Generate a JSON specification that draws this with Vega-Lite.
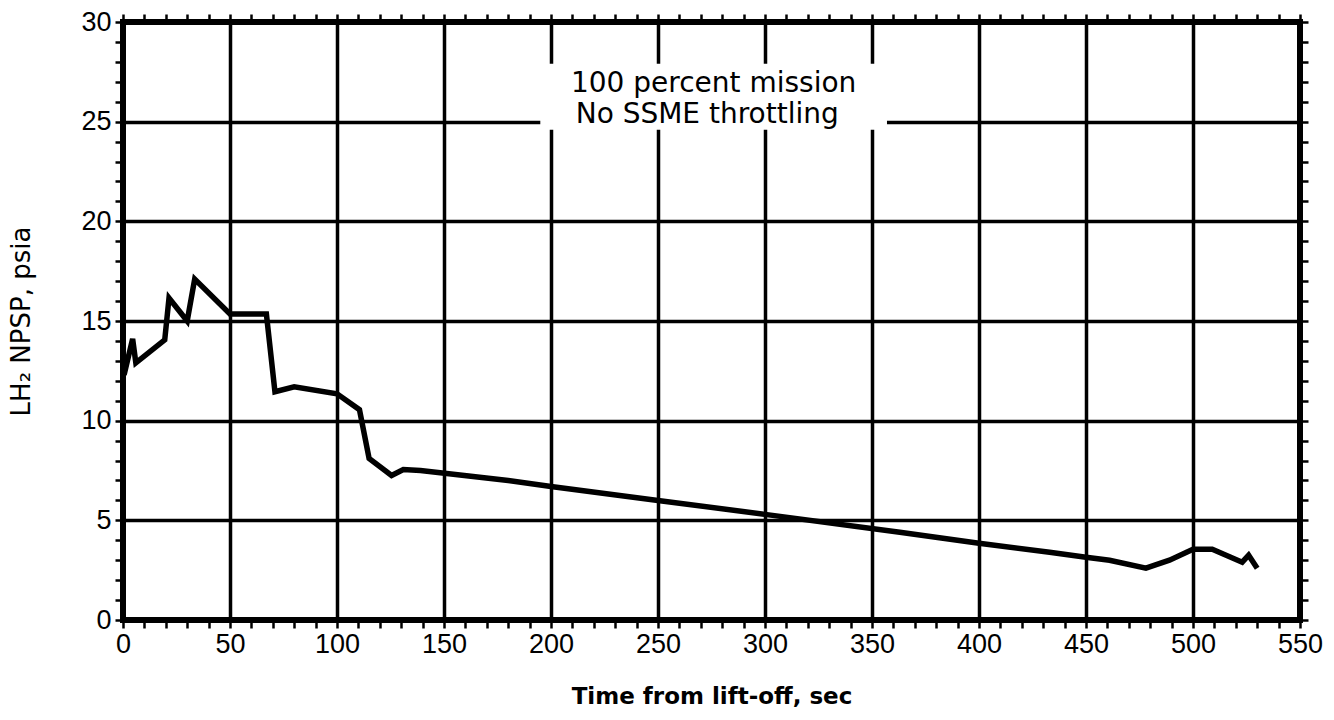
{
  "$schema": "https://vega.github.io/schema/vega-lite/v6.json",
  "autosize": "none",
  "width": 1177,
  "height": 598,
  "padding": {"left": 123, "top": 22, "right": 34, "bottom": 100},
  "background": "white",
  "config": {
    "view": {"stroke": "black", "strokeWidth": 6},
    "axis": {
      "domain": false,
      "tickColor": "black",
      "tickWidth": 2.5,
      "tickSize": 8,
      "labelFont": "Liberation Sans",
      "labelFontSize": 27,
      "labelColor": "black",
      "labelFlush": false,
      "labelOverlap": false,
      "titleColor": "black",
      "gridColor": "black",
      "gridWidth": 3.5,
      "gridOpacity": 1
    }
  },
  "datasets": {
    "npsp": [
      {"t": 0.5, "v": 12.3}, {"t": 4.5, "v": 14.1}, {"t": 6, "v": 12.9},
      {"t": 19.5, "v": 14.05}, {"t": 21.5, "v": 16.15}, {"t": 30, "v": 15.0},
      {"t": 33.5, "v": 17.1}, {"t": 50, "v": 15.35}, {"t": 67, "v": 15.35},
      {"t": 71, "v": 11.45}, {"t": 80, "v": 11.7}, {"t": 100, "v": 11.35},
      {"t": 110.5, "v": 10.55}, {"t": 115, "v": 8.1}, {"t": 125.5, "v": 7.25},
      {"t": 131, "v": 7.55}, {"t": 139, "v": 7.5}, {"t": 180, "v": 7.0},
      {"t": 200, "v": 6.7}, {"t": 250, "v": 6.0}, {"t": 300, "v": 5.3},
      {"t": 363, "v": 4.4}, {"t": 400, "v": 3.85}, {"t": 433, "v": 3.4},
      {"t": 450, "v": 3.15}, {"t": 461, "v": 3.0}, {"t": 478, "v": 2.6},
      {"t": 489, "v": 3.0}, {"t": 500, "v": 3.55}, {"t": 509, "v": 3.55},
      {"t": 523, "v": 2.9}, {"t": 526, "v": 3.25}, {"t": 530, "v": 2.6}
    ],
    "box": [{"t1": 195, "t2": 357, "v1": 24.6, "v2": 27.9}],
    "notes": [
      {"t": 276, "v": 26.5, "label": "100 percent mission"},
      {"t": 273, "v": 24.95, "label": "No SSME throttling"}
    ]
  },
  "layer": [
    {
      "data": {"name": "box"},
      "mark": {"type": "rect", "color": "white"},
      "encoding": {
        "x": {"field": "t1", "type": "quantitative",
          "scale": {"domain": [0, 550], "nice": false, "zero": false},
          "axis": {"orient": "top", "values": [0,10,20,30,40,50,60,70,80,90,100,110,120,130,140,150,160,170,180,190,200,210,220,230,240,250,260,270,280,290,300,310,320,330,340,350,360,370,380,390,400,410,420,430,440,450,460,470,480,490,500,510,520,530,540,550], "labels": false, "grid": false, "title": null}},
        "x2": {"field": "t2"},
        "y": {"field": "v1", "type": "quantitative",
          "scale": {"domain": [0, 30], "nice": false, "zero": false},
          "axis": {"orient": "right", "values": [0,1,2,3,4,5,6,7,8,9,10,11,12,13,14,15,16,17,18,19,20,21,22,23,24,25,26,27,28,29,30], "labels": false, "grid": false, "title": null}},
        "y2": {"field": "v2"}
      }
    },
    {
      "data": {"name": "npsp"},
      "mark": {"type": "line", "color": "black", "strokeWidth": 5.5, "strokeJoin": "miter"},
      "encoding": {
        "x": {"field": "t", "type": "quantitative",
          "scale": {"domain": [0, 550], "nice": false, "zero": false},
          "axis": {"orient": "bottom", "values": [0,10,20,30,40,50,60,70,80,90,100,110,120,130,140,150,160,170,180,190,200,210,220,230,240,250,260,270,280,290,300,310,320,330,340,350,360,370,380,390,400,410,420,430,440,450,460,470,480,490,500,510,520,530,540,550],
            "labelExpr": "datum.value % 50 === 0 ? datum.label : ''",
            "labelPadding": 3,
            "grid": false,
            "title": "Time from lift-off, sec",
            "titleFont": "DejaVu Sans", "titleFontSize": 23, "titleFontWeight": "bold", "titlePadding": 28}},
        "y": {"field": "v", "type": "quantitative",
          "scale": {"domain": [0, 30], "nice": false, "zero": false},
          "axis": {"orient": "left", "values": [0,1,2,3,4,5,6,7,8,9,10,11,12,13,14,15,16,17,18,19,20,21,22,23,24,25,26,27,28,29,30],
            "labelExpr": "datum.value % 5 === 0 ? datum.label : ''",
            "labelPadding": 4,
            "grid": false,
            "title": "LH₂ NPSP, psia",
            "titleFont": "DejaVu Sans", "titleFontSize": 26, "titleFontWeight": "normal", "titlePadding": 46}}
      }
    },
    {
      "data": {"name": "notes"},
      "mark": {"type": "text", "font": "DejaVu Sans", "fontSize": 28, "color": "black", "align": "center", "baseline": "alphabetic"},
      "encoding": {
        "x": {"field": "t", "type": "quantitative",
          "axis": {"orient": "bottom", "values": [0,50,100,150,200,250,300,350,400,450,500,550], "grid": true, "ticks": false, "labels": false, "domain": false, "title": null}},
        "y": {"field": "v", "type": "quantitative",
          "axis": {"orient": "left", "values": [0,5,10,15,20,25,30], "grid": true, "ticks": false, "labels": false, "domain": false, "title": null}},
        "text": {"field": "label"}
      }
    }
  ],
  "resolve": {"axis": {"x": "independent", "y": "independent"}}
}
